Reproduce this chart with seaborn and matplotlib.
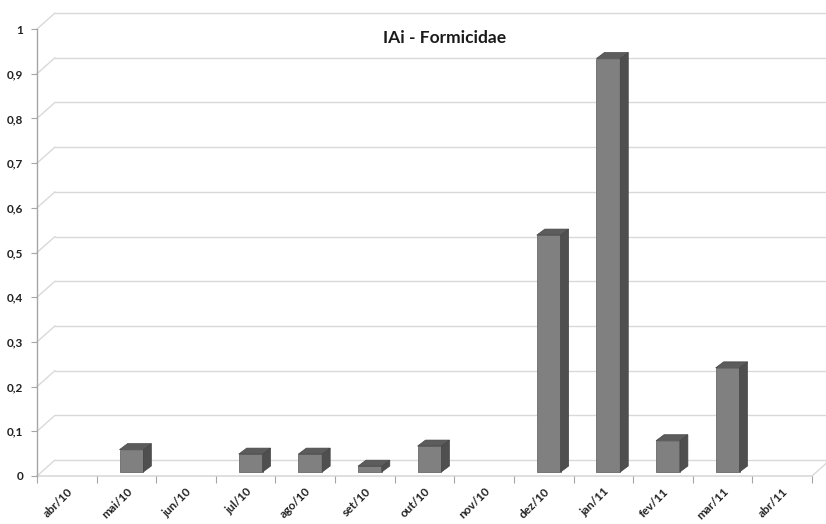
import matplotlib
matplotlib.use("Agg")
import matplotlib.pyplot as plt
import pandas as pd
import seaborn as sns
from matplotlib.patches import Polygon
from matplotlib.lines import Line2D
from matplotlib.transforms import ScaledTranslation, IdentityTransform

# Monthly IAi values for Formicidae
months = ["abr/10", "mai/10", "jun/10", "jul/10", "ago/10", "set/10", "out/10",
          "nov/10", "dez/10", "jan/11", "fev/11", "mar/11", "abr/11"]
iai = [0.0, 0.05, 0.0, 0.04, 0.04, 0.013, 0.058, 0.0, 0.53, 0.925, 0.07, 0.233, 0.0]
y_ticks = [0.0, 0.1, 0.2, 0.3, 0.4, 0.5, 0.6, 0.7, 0.8, 0.9, 1.0]
y_tick_labels = ["0", "0,1", "0,2", "0,3", "0,4", "0,5", "0,6", "0,7", "0,8", "0,9", "1"]
title = "IAi - Formicidae"

df = pd.DataFrame({"mes": months, "iai": iai})

sns.set_theme(style="white")
plt.rcParams["font.family"] = ["Lato", "DejaVu Sans"]

DPI = 100
W, H = 826, 524
fig = plt.figure(figsize=(W / DPI, H / DPI), dpi=DPI)
fig.patch.set_facecolor("white")
ax = fig.add_axes([37 / W, 48 / H, 775 / W, 447 / H])
ax.patch.set_alpha(0)

FRONT = "#808080"
SIDE = "#4f4f4f"
TOP = "#5c5c5c"
GRID = "#d9d9d9"
AXIS = "#a6a6a6"

sns.barplot(data=df, x="mes", y="iai", color=FRONT, saturation=1, width=0.4,
            edgecolor="#6a6a6a", linewidth=0.6, ax=ax, zorder=3)
ax.set_xlim(-0.5, len(months) - 0.5)
ax.set_ylim(0, 1)

# 3D geometry in pixels: wall depth, bar set-back and bar depth
WX, WY = 18, 16
BX, BY = 5, 4
DX, DY = 8, 6

shift = ScaledTranslation(BX / DPI, BY / DPI, fig.dpi_scale_trans)
ident = IdentityTransform()

# back wall gridlines and the diagonals joining them to the axis
for v in y_ticks:
    x0, y = ax.transData.transform((-0.5, v))
    x1, _ = ax.transData.transform((len(months) - 0.5, v))
    fig.add_artist(Line2D([x0 + WX, x1 + WX], [y + WY, y + WY], transform=ident,
                          color=GRID, lw=1.0, zorder=-2))
    fig.add_artist(Line2D([x0, x0 + WX], [y, y + WY], transform=ident,
                          color=GRID, lw=1.0, zorder=-2))

# floor front edge and right edge
x0, y0 = ax.transData.transform((-0.5, 0))
x1, _ = ax.transData.transform((len(months) - 0.5, 0))
fig.add_artist(Line2D([x0, x1], [y0, y0], transform=ident, color=GRID, lw=1.2, zorder=-1))
fig.add_artist(Line2D([x1, x1 + WX], [y0, y0 + WY], transform=ident, color=GRID, lw=1.0, zorder=-1))

# side and top faces of each column
for patch, val in zip(ax.patches, iai):
    patch.set_transform(ax.transData + shift)
    if val <= 0:
        patch.set_visible(False)
        continue
    xl = patch.get_x()
    xr = xl + patch.get_width()
    (pl, pb), (pr, pt) = ax.transData.transform([(xl, 0), (xr, val)])
    pl += BX; pr += BX; pb += BY; pt += BY
    side = Polygon([(pr, pb), (pr, pt), (pr + DX, pt + DY), (pr + DX, pb + DY)],
                   closed=True, transform=ident, facecolor=SIDE, edgecolor="#454545",
                   lw=0.5, zorder=4)
    top = Polygon([(pl, pt), (pr, pt), (pr + DX, pt + DY), (pl + DX, pt + DY)],
                  closed=True, transform=ident, facecolor=TOP, edgecolor="#454545",
                  lw=0.5, zorder=4)
    fig.add_artist(side)
    fig.add_artist(top)

# axes styling
for s in ["top", "right", "bottom"]:
    ax.spines[s].set_visible(False)
ax.spines["left"].set_color(AXIS)
ax.spines["left"].set_linewidth(1.0)

ax.set_yticks(y_ticks)
ax.set_yticklabels(y_tick_labels, fontsize=8.5, fontweight="bold", color="#222222")
ax.tick_params(axis="y", which="major", left=True, length=4, width=0.8, color=AXIS, pad=6)

ax.set_xticks(range(len(months)))
ax.set_xticklabels(months, rotation=45, ha="right", rotation_mode="anchor",
                   fontsize=8.5, fontweight="bold", color="#222222")
ax.set_xticks([i - 0.5 for i in range(len(months) + 1)], minor=True)
ax.tick_params(axis="x", which="major", bottom=False, length=0, pad=7)
ax.tick_params(axis="x", which="minor", bottom=True, length=5, width=0.8, color=AXIS)
ax.set_xlabel("")
ax.set_ylabel("")

fig.text(445 / W, 1 - 38 / H, title, ha="center", va="center",
         fontsize=12.5, fontweight="bold", color="#1a1a1a")

fig.savefig("out.png", dpi=DPI)
